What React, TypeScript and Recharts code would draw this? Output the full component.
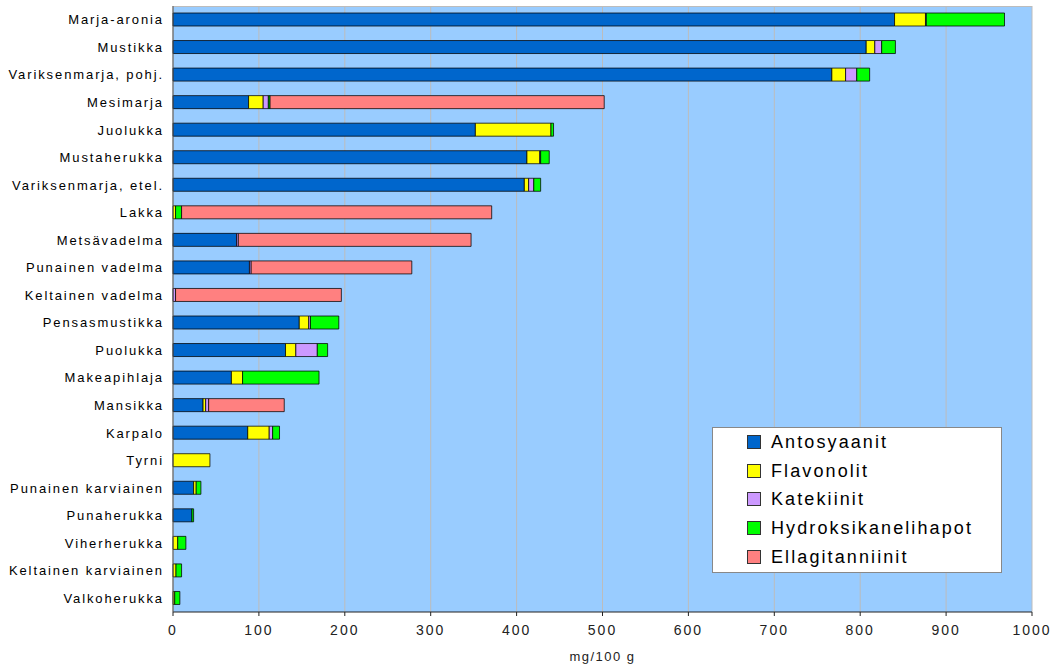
import { BarChart, Bar, XAxis, YAxis, CartesianGrid } from 'recharts'

const categories = [
  'Marja-aronia', 'Mustikka', 'Variksenmarja, pohj.', 'Mesimarja', 'Juolukka', 'Mustaherukka',
  'Variksenmarja, etel.', 'Lakka', 'Metsävadelma', 'Punainen vadelma', 'Keltainen vadelma',
  'Pensasmustikka', 'Puolukka', 'Makeapihlaja', 'Mansikka', 'Karpalo', 'Tyrni',
  'Punainen karviainen', 'Punaherukka', 'Viherherukka', 'Keltainen karviainen', 'Valkoherukka',
]

const antosyaanit = [840, 807, 767, 88, 352, 412, 409, 0, 74, 89, 0, 147, 131, 68, 35, 87, 0, 24, 22, 0, 0, 0]
const flavonolit = [36, 10, 16, 17, 88, 15, 5, 3, 0, 0, 0, 11, 12, 13, 3, 25, 43, 3, 0, 5.5, 3.5, 2]
const katekiinit = [1, 8, 13, 6, 0, 1, 6, 0, 2, 2, 3, 2, 25, 0, 3.5, 4, 0, 0, 0, 0, 0, 0]
const hydroksikanelihapot = [91, 16, 15, 2, 3, 10, 8, 7, 0, 0, 0, 33, 12, 89, 0, 8, 0, 5.5, 2, 9.5, 6.5, 6]
const ellagitanniinit = [0, 0, 0, 389, 0, 0, 0, 361, 271, 187, 193, 0, 0, 0, 88, 0, 0, 0, 0, 0, 0, 0]

const xTicks = [0, 100, 200, 300, 400, 500, 600, 700, 800, 900, 1000]

const series = [
  { key: 'antosyaanit', name: 'Antosyaanit', color: '#0066CC' },
  { key: 'flavonolit', name: 'Flavonolit', color: '#FFFF00' },
  { key: 'katekiinit', name: 'Katekiinit', color: '#CC99FF' },
  { key: 'hydroksikanelihapot', name: 'Hydroksikanelihapot', color: '#00FF00' },
  { key: 'ellagitanniinit', name: 'Ellagitanniinit', color: '#FF8080' },
]

const data = categories.map((name, i) => ({
  name,
  antosyaanit: antosyaanit[i],
  flavonolit: flavonolit[i],
  katekiinit: katekiinit[i],
  hydroksikanelihapot: hydroksikanelihapot[i],
  ellagitanniinit: ellagitanniinit[i],
}))

const FONT = '"Liberation Sans", Arial, sans-serif'

// legend drawn as an overlay so it doesn't eat into the plot area
function LegendBox() {
  return (
    <div
      style={{
        position: 'absolute',
        left: 712,
        top: 427,
        width: 290,
        height: 146,
        background: '#fff',
        border: '1px solid #888',
        boxSizing: 'border-box',
        fontFamily: FONT,
      }}
    >
      {series.map(s => (
        <div key={s.key} style={{ display: 'flex', alignItems: 'center', height: 28.6 }}>
          <span
            style={{
              display: 'inline-block',
              width: 12,
              height: 12,
              marginLeft: 34,
              marginRight: 10,
              background: s.color,
              border: '1px solid #333',
              flexShrink: 0,
            }}
          />
          <span style={{ fontSize: 18, letterSpacing: '2.1px', color: '#000', lineHeight: 1 }}>{s.name}</span>
        </div>
      ))}
    </div>
  )
}

export default function App() {
  return (
    <div style={{ position: 'absolute', left: 0, top: 0, width: 1055, height: 670, background: '#fff' }}>
      <BarChart
        width={1055}
        height={670}
        data={data}
        layout="vertical"
        margin={{ top: 6, right: 23, bottom: 8, left: 0 }}
        barSize={13}
      >
        <CartesianGrid
          fill="#99CCFF"
          stroke="#bcbcbc"
          horizontalPoints={[6.5]}
        />
        <XAxis
          type="number"
          domain={[0, 1000]}
          ticks={xTicks}
          height={50}
          tickSize={4}
          tickMargin={9}
          stroke="#222"
          tick={{ fill: '#222', fontSize: 14, fontFamily: FONT, style: { letterSpacing: '2px' } }}
          label={{ value: 'mg/100 g', position: 'insideBottom', offset: 1, fill: '#222', fontSize: 13, fontFamily: FONT, style: { letterSpacing: '1.5px' } }}
        />
        <YAxis
          type="category"
          dataKey="name"
          width={173}
          interval={0}
          tickLine={false}
          tickSize={0}
          tickMargin={9}
          stroke="#555"
          tick={{ fill: '#000', fontSize: 13, fontFamily: FONT, style: { letterSpacing: '1.9px' } }}
        />
        {series.map(s => (
          <Bar
            key={s.key}
            dataKey={s.key}
            name={s.name}
            stackId="a"
            fill={s.color}
            stroke="#000"
            strokeOpacity={0.75}
            strokeWidth={1}
            isAnimationActive={false}
          />
        ))}
      </BarChart>
      <LegendBox />
    </div>
  )
}
